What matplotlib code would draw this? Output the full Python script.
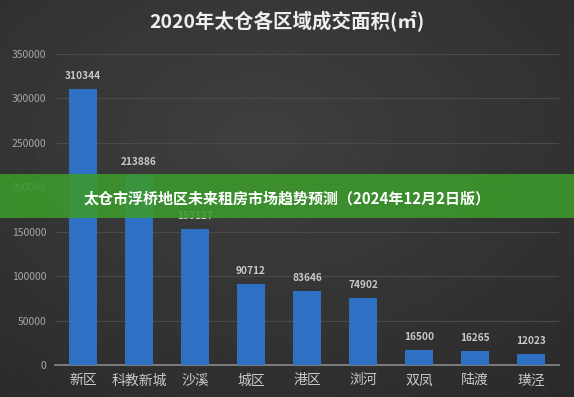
import matplotlib
matplotlib.use("Agg")
import matplotlib.pyplot as plt
import numpy as np
from matplotlib.patches import Rectangle

plt.rcParams['font.family'] = ['Noto Sans CJK SC', 'DejaVu Sans']

# data
districts = ['新区', '科教新城', '沙溪', '城区', '港区', '浏河', '双凤', '陆渡', '璜泾']
areas = [310344, 213886, 153127, 90712, 83646, 74902, 16500, 16265, 12023]
y_ticks = [0, 50000, 100000, 150000, 200000, 250000, 300000, 350000]

fig = plt.figure(figsize=(5.74, 3.97), dpi=100)

# dark gradient background
bg = fig.add_axes([0, 0, 1, 1], zorder=-10)
yy, xx = np.mgrid[0:1:200j, 0:1:300j]
shade = 0.25 - 0.1 * np.sqrt((xx - 0.45) ** 2 + (yy - 0.35) ** 2)
bg.imshow(shade, cmap='gray', vmin=0, vmax=1, aspect='auto', extent=[0, 1, 0, 1])
bg.axis('off')

ax = fig.add_axes([55 / 574, 32 / 397, 504 / 574, 311 / 397])
ax.set_facecolor('none')

x = np.arange(len(districts))
bars = ax.bar(x, areas, width=0.5, color='#2e71c4', zorder=3)
for b, v in zip(bars, areas):
    ax.text(b.get_x() + b.get_width() / 2, v + 9000, str(v), ha='center', va='bottom',
            fontsize=7.3, color='#c8c8c8', fontweight='bold')

ax.set_xlim(-0.5, len(districts) - 0.5)
ax.set_ylim(0, 350000)
ax.set_yticks(y_ticks)
ax.set_yticklabels([str(t) for t in y_ticks], fontsize=7.5, color='#a8a8a8')
ax.set_xticks(x)
ax.set_xticklabels(districts, fontsize=10, color='#c8c8c8')
ax.tick_params(length=0, pad=6)
ax.yaxis.grid(True, color='#4a4a4a', linewidth=0.8, zorder=0)
for s in ['top', 'right', 'left']:
    ax.spines[s].set_visible(False)
ax.spines['bottom'].set_color('#8a8a8a')
ax.spines['bottom'].set_linewidth(1.2)

fig.text(0.5, 1 - 22 / 397, '2020年太仓各区域成交面积(㎡)', ha='center', va='center',
         fontsize=14, fontweight='bold', color='#eeeeee')

# green banner across the middle
fig.patches.append(Rectangle((0, 179 / 397), 1, 44 / 397, transform=fig.transFigure,
                             facecolor='#3c9a2c', alpha=0.88, zorder=10))
fig.text(0.5, 1 - 198 / 397, '太仓市浮桥地区未来租房市场趋势预测（2024年12月2日版）',
         ha='center', va='center', fontsize=10.8, fontweight='bold', color='white', zorder=11)

fig.savefig('out.png', dpi=100)
